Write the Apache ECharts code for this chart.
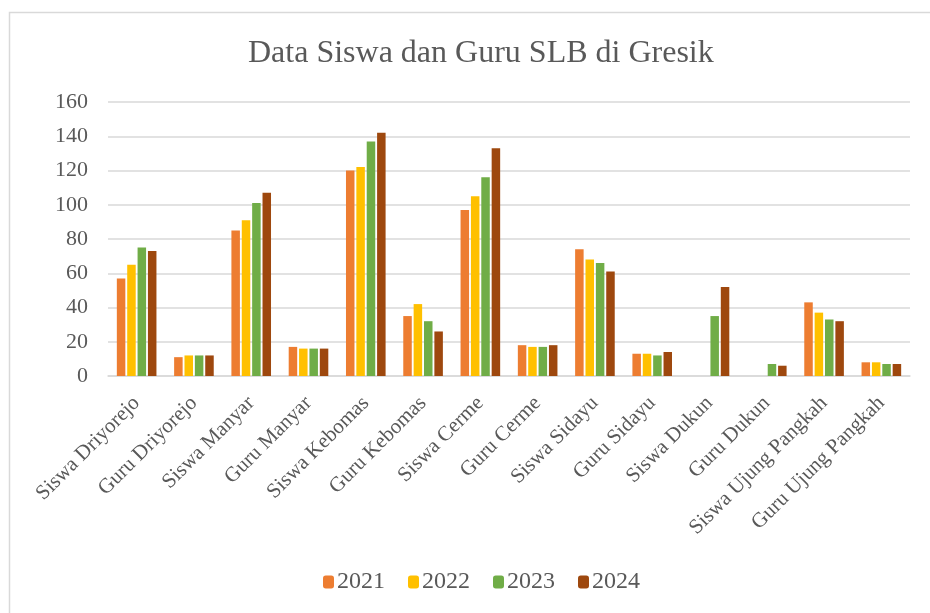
<!DOCTYPE html>
<html>
<head>
<meta charset="utf-8">
<script src="https://cdn.jsdelivr.net/npm/echarts@6/dist/echarts.min.js"></script>
<style>
  html, body { margin: 0; padding: 0; background: #fff; }
  #chart { width: 930px; height: 613px; }
</style>
</head>
<body>
<div id="chart"></div>
<script>
const categories = [
  'Siswa Driyorejo', 'Guru Driyorejo', 'Siswa Manyar', 'Guru Manyar',
  'Siswa Kebomas', 'Guru Kebomas', 'Siswa Cerme', 'Guru Cerme',
  'Siswa Sidayu', 'Guru Sidayu', 'Siswa Dukun', 'Guru Dukun',
  'Siswa Ujung Pangkah', 'Guru Ujung Pangkah'
];
const years = ['2021', '2022', '2023', '2024'];
const v2021 = [57, 11, 85, 17, 120, 35, 97, 18, 74, 13, null, null, 43, 8];
const v2022 = [65, 12, 91, 16, 122, 42, 105, 17, 68, 13, null, null, 37, 8];
const v2023 = [75, 12, 101, 16, 137, 32, 116, 17, 66, 12, 35, 7, 33, 7];
const v2024 = [73, 12, 107, 16, 142, 26, 133, 18, 61, 14, 52, 6, 32, 7];
const yTicks = [0, 20, 40, 60, 80, 100, 120, 140, 160];

const colors = ['#ED7D31', '#FFC000', '#70AD47', '#9E480E'];
const seriesValues = [v2021, v2022, v2023, v2024];
const font = '"Liberation Serif", "Times New Roman", serif';

const chart = echarts.init(document.getElementById('chart'));
chart.setOption({
  animation: false,
  textStyle: { fontFamily: font },
  title: {
    text: 'Data Siswa dan Guru SLB di Gresik',
    left: 243,
    top: 33,
    textStyle: { fontFamily: font, fontSize: 32, fontWeight: 'normal', color: '#595959' }
  },
  graphic: [{
    type: 'rect',
    shape: { x: 9.5, y: 12.5, width: 940, height: 620 },
    style: { fill: 'none', stroke: '#d9d9d9', lineWidth: 1.5 },
    silent: true
  }],
  legend: {
    data: years,
    bottom: 14,
    left: 318,
    itemWidth: 11,
    itemHeight: 13,
    itemGap: 23,
    textStyle: { fontFamily: font, fontSize: 24, color: '#595959', padding: [0, 0, 0, -2] }
  },
  grid: { left: 108, right: 20, top: 102, bottom: 237 },
  xAxis: {
    type: 'category',
    data: categories,
    axisLine: { lineStyle: { color: '#d9d9d9', width: 1.5 } },
    axisTick: { show: false },
    axisLabel: {
      interval: 0,
      rotate: 45,
      margin: 24,
      fontFamily: font,
      fontSize: 21,
      color: '#595959'
    }
  },
  yAxis: {
    type: 'value',
    min: yTicks[0],
    max: yTicks[yTicks.length - 1],
    interval: 20,
    axisLine: { show: false },
    axisTick: { show: false },
    axisLabel: { margin: 20, fontFamily: font, fontSize: 22, color: '#595959' },
    splitLine: { lineStyle: { color: '#d9d9d9', width: 1.5 } }
  },
  series: years.map((y, i) => ({
    name: y,
    type: 'bar',
    data: seriesValues[i],
    barWidth: 8.5,
    barGap: '22%',
    itemStyle: { color: colors[i] }
  }))
});
</script>
</body>
</html>
